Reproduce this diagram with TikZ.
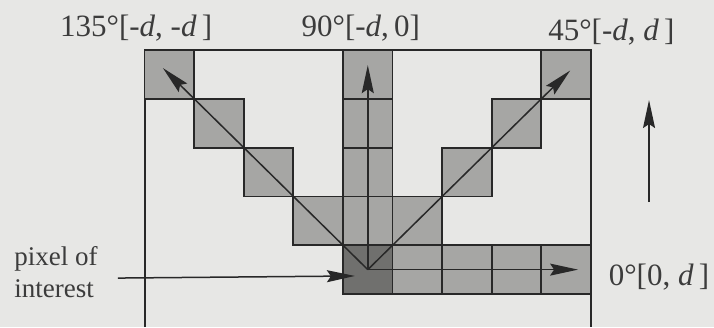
\documentclass[tikz,border=0pt]{standalone}
\usepackage{fontspec}
\setmainfont{Liberation Serif}
\usetikzlibrary{arrows.meta}
\definecolor{bgcol}{RGB}{231,231,229}
\definecolor{cellcol}{RGB}{166,166,164}
\definecolor{poicol}{RGB}{112,112,110}
\definecolor{linecol}{RGB}{40,40,40}
\definecolor{textcol}{RGB}{60,60,60}

\begin{document}
\begin{tikzpicture}[x=49.6pt, y=48.8pt,
    cell/.style={draw=linecol, fill=cellcol, line width=1.8pt,
        minimum width=49.6pt, minimum height=48.8pt, inner sep=0pt},
    arr/.style={draw=linecol, line width=1.5pt,
        -{Stealth[length=28pt, width=12pt, inset=4pt]}},
    lbl/.style={text=textcol, font=\fontsize{31}{36}\selectfont,
        anchor=base, inner sep=0pt}]
    % Background and frame
    \fill[bgcol] (-6.915,-0.676) rectangle (7.48,6.025);
    \useasboundingbox (-6.915,-0.676) rectangle (7.48,6.025);
    \draw[linecol, line width=1.9pt] (-4,-0.676) -- (-4,5) -- (5,5) -- (5,-0.676);

    % Pixels along the four directions
    \foreach \i in {1,...,4} {
        \node[cell] (n\i) at (0.5,\i+0.5) {};
        \node[cell] (e\i) at (\i+0.5,0.5) {};
        \node[cell] (ne\i) at (\i+0.5,\i+0.5) {};
        \node[cell] (nw\i) at (-\i+0.5,\i+0.5) {};
    }
    \node[cell, fill=poicol] (poi) at (0.5,0.5) {};

    % Direction arrows
    \coordinate (t135) at (-3.63,4.63);
    \coordinate (t90) at (0.5,4.69);
    \coordinate (t45) at (4.58,4.58);
    \coordinate (t0) at (4.74,0.5);
    \draw[arr] (poi.center) -- (t135);
    \draw[arr] (poi.center) -- (t90);
    \draw[arr] (poi.center) -- (t45);
    \draw[arr] (poi.center) -- (t0);

    % Labels
    \node[lbl] (l135) at (-4.17,5.27) {135°[-\textit{d}, -\textit{d}\,]};
    \node[lbl] (l90) at (0.36,5.27) {90°[-\textit{d},\,0]};
    \node[lbl] (l45) at (5.41,5.2) {45°[-\textit{d}, \textit{d}\,]};
    \node[lbl] (l0) at (6.37,0.18) {0°[0, \textit{d}\,]};
    \node[text=textcol, font=\fontsize{27}{32}\selectfont, align=left,
        anchor=west, inner sep=0pt] (pix) at (-6.63,0.45) {pixel of\\interest};

    \coordinate (poiin) at (0.24,0.37);
    \draw[arr] ([xshift=20pt,yshift=-6pt]pix.east) -- (poiin);

    % Upward arrow on the right
    \coordinate (up0) at (6.17,1.885);
    \coordinate (up1) at (6.17,3.975);
    \draw[arr] (up0) -- (up1);
\end{tikzpicture}
\end{document}
